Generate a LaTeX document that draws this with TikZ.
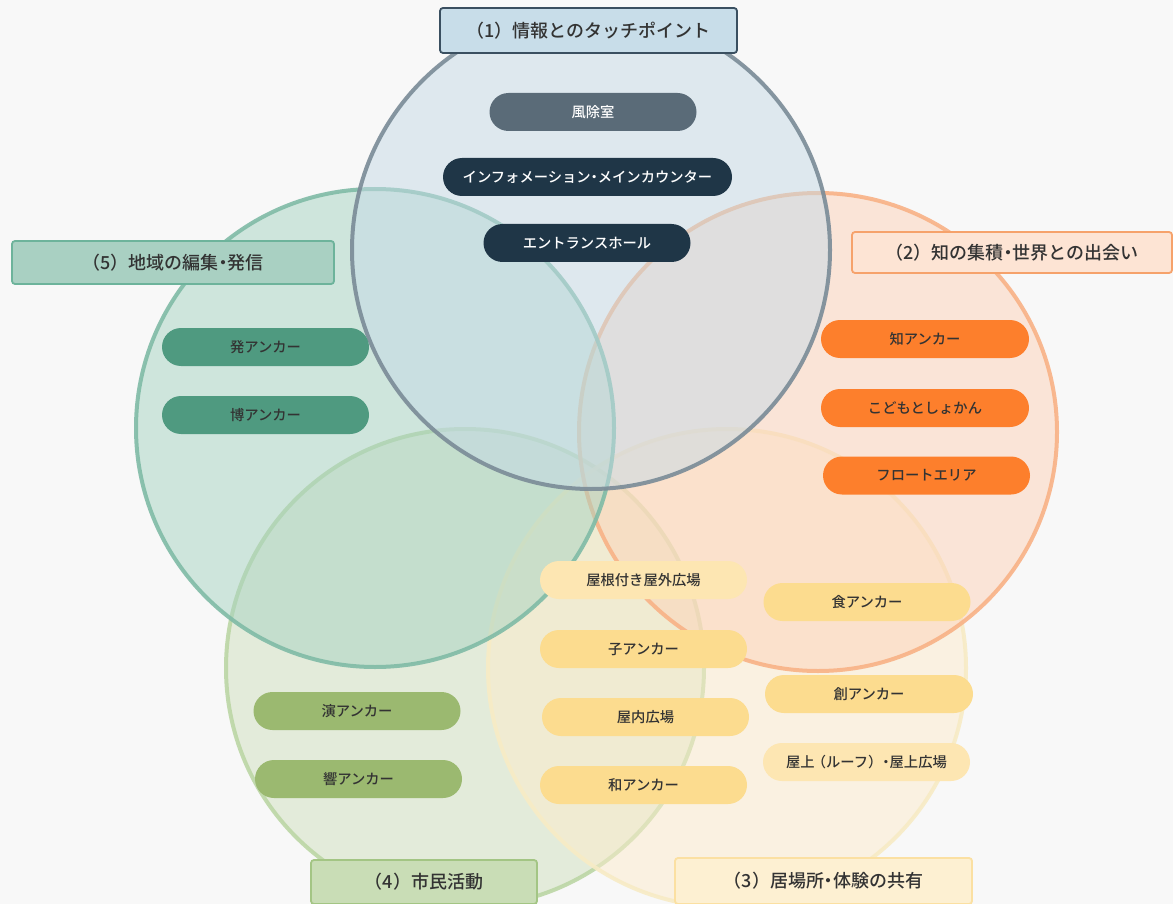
\documentclass[tikz,border=0pt]{standalone}
\usepackage{fontspec}
\setmainfont{Noto Sans CJK JP}
\newfontfamily\medfont{Noto Sans CJK JP Medium}
\definecolor{bg}{HTML}{F8F8F8}
\definecolor{teal1}{HTML}{4F9A80}
\definecolor{orange1}{HTML}{FD7F2C}
\definecolor{yel1}{HTML}{FCDC8F}
\definecolor{yel2}{HTML}{FDE6B2}
\definecolor{green1}{HTML}{9BB970}
\definecolor{navy}{HTML}{1F3647}
\definecolor{slate}{HTML}{5A6B78}
\definecolor{c1f}{HTML}{C5DAE6}\definecolor{c1d}{HTML}{7A8B97}
\definecolor{c2f}{HTML}{FCD2B8}\definecolor{c2d}{HTML}{F8B286}
\definecolor{c3f}{HTML}{FDECCC}\definecolor{c3d}{HTML}{F7EBC5}
\definecolor{c4f}{HTML}{CFE0BD}\definecolor{c4d}{HTML}{BCD6A5}
\definecolor{c5f}{HTML}{A6D3C2}\definecolor{c5d}{HTML}{80BBA6}
\definecolor{h1f}{HTML}{C8DDE9}\definecolor{h1d}{HTML}{3A4F60}
\definecolor{h2f}{HTML}{FDE4D4}\definecolor{h2d}{HTML}{F6A26B}
\definecolor{h3f}{HTML}{FDF0D2}\definecolor{h3d}{HTML}{FBE0A2}
\definecolor{h4f}{HTML}{C9DDB6}\definecolor{h4d}{HTML}{A3C584}
\definecolor{h5f}{HTML}{A9D0C2}\definecolor{h5d}{HTML}{6DB39B}
\definecolor{txt}{HTML}{333333}
\begin{document}
\begin{tikzpicture}[x=1pt,y=-1pt,
  circ/.style={circle,minimum size=478pt,inner sep=0pt,line width=4pt,fill opacity=0.5,draw opacity=0.9},
  hdr/.style={rectangle,rounded corners=3pt,line width=1.8pt,inner sep=0pt,text=txt,font=\medfont\fontsize{18}{21}\selectfont},
  pill/.style={rectangle,rounded corners=19pt,minimum height=38pt,minimum width=207pt,inner sep=0pt,font=\medfont\fontsize{14.3}{17}\selectfont,text=txt},
  pnavy/.style={pill,fill=navy,text=white},
  pslate/.style={pill,fill=slate,text=white},
  pteal/.style={pill,fill=teal1},
  porange/.style={pill,fill=orange1},
  pyel/.style={pill,fill=yel1},
  pyell/.style={pill,fill=yel2},
  pgreen/.style={pill,fill=green1}]
\fill[bg] (0,0) rectangle (1173,904);
\useasboundingbox (0,0) rectangle (1173,904);
% circles
\node[circ,fill=c4f,draw=c4d] (C4) at (465,668) {};
\node[circ,fill=c3f,draw=c3d] (C3) at (727,668) {};
\node[circ,fill=c2f,draw=c2d] (C2) at (818,432) {};
\node[circ,fill=c5f,draw=c5d] (C5) at (375,428) {};
\node[circ,fill=c1f,draw=c1d] (C1) at (591,250) {};
% headers
\node[hdr,fill=h1f,draw=h1d,minimum width=297pt,minimum height=45pt] (H1) at (588.5,30.5) {（1）情報とのタッチポイント};
\node[hdr,fill=h5f,draw=h5d,minimum width=322pt,minimum height=43pt] (H5) at (173,262.5) {（5）地域の編集\kern-0.25em・\kern-0.25em 発信};
\node[hdr,fill=h2f,draw=h2d,minimum width=320pt,minimum height=41pt] (H2) at (1012,252.5) {（2）知の集積\kern-0.25em・\kern-0.25em 世界との出会い};
\node[hdr,fill=h4f,draw=h4d,minimum width=226pt,minimum height=44pt] (H4) at (424,882) {（4）市民活動};
\node[hdr,fill=h3f,draw=h3d,minimum width=297pt,minimum height=46pt] (H3) at (823.5,881) {（3）居場所\kern-0.25em・\kern-0.25em 体験の共有};
% pills: circle 1
\node[pslate] (p11) at (593,112) {風除室};
\node[pnavy,minimum width=289pt] (p12) at (587.5,177) {インフォメーション\kern-0.25em・\kern-0.25em メインカウンター};
\node[pnavy] (p13) at (587,243) {エントランスホール};
% circle 5
\node[pteal] (p51) at (265.5,347) {発アンカー};
\node[pteal] (p52) at (265.5,415) {博アンカー};
% circle 2
\node[porange,minimum width=208pt] (p21) at (925,339) {知アンカー};
\node[porange,minimum width=208pt] (p22) at (925,408) {こどもとしょかん};
\node[porange] (p23) at (926.5,475.5) {フロートエリア};
% circle 3
\node[pyell] (p31) at (643.5,580) {屋根付き屋外広場};
\node[pyel] (p32) at (643.5,649) {子アンカー};
\node[pyel] (p33) at (645.5,717) {屋内広場};
\node[pyel] (p34) at (643.5,785) {和アンカー};
\node[pyel] (p35) at (867,602) {食アンカー};
\node[pyel,minimum width=208pt] (p36) at (869,694) {創アンカー};
\node[pyell] (p37) at (866.5,762) {屋上\kern-0.2em（ルーフ）\kern-0.25em・\kern-0.25em 屋上広場};
% circle 4
\node[pgreen] (p41) at (357,711) {演アンカー};
\node[pgreen] (p42) at (358.5,779) {響アンカー};
\end{tikzpicture}
\end{document}
